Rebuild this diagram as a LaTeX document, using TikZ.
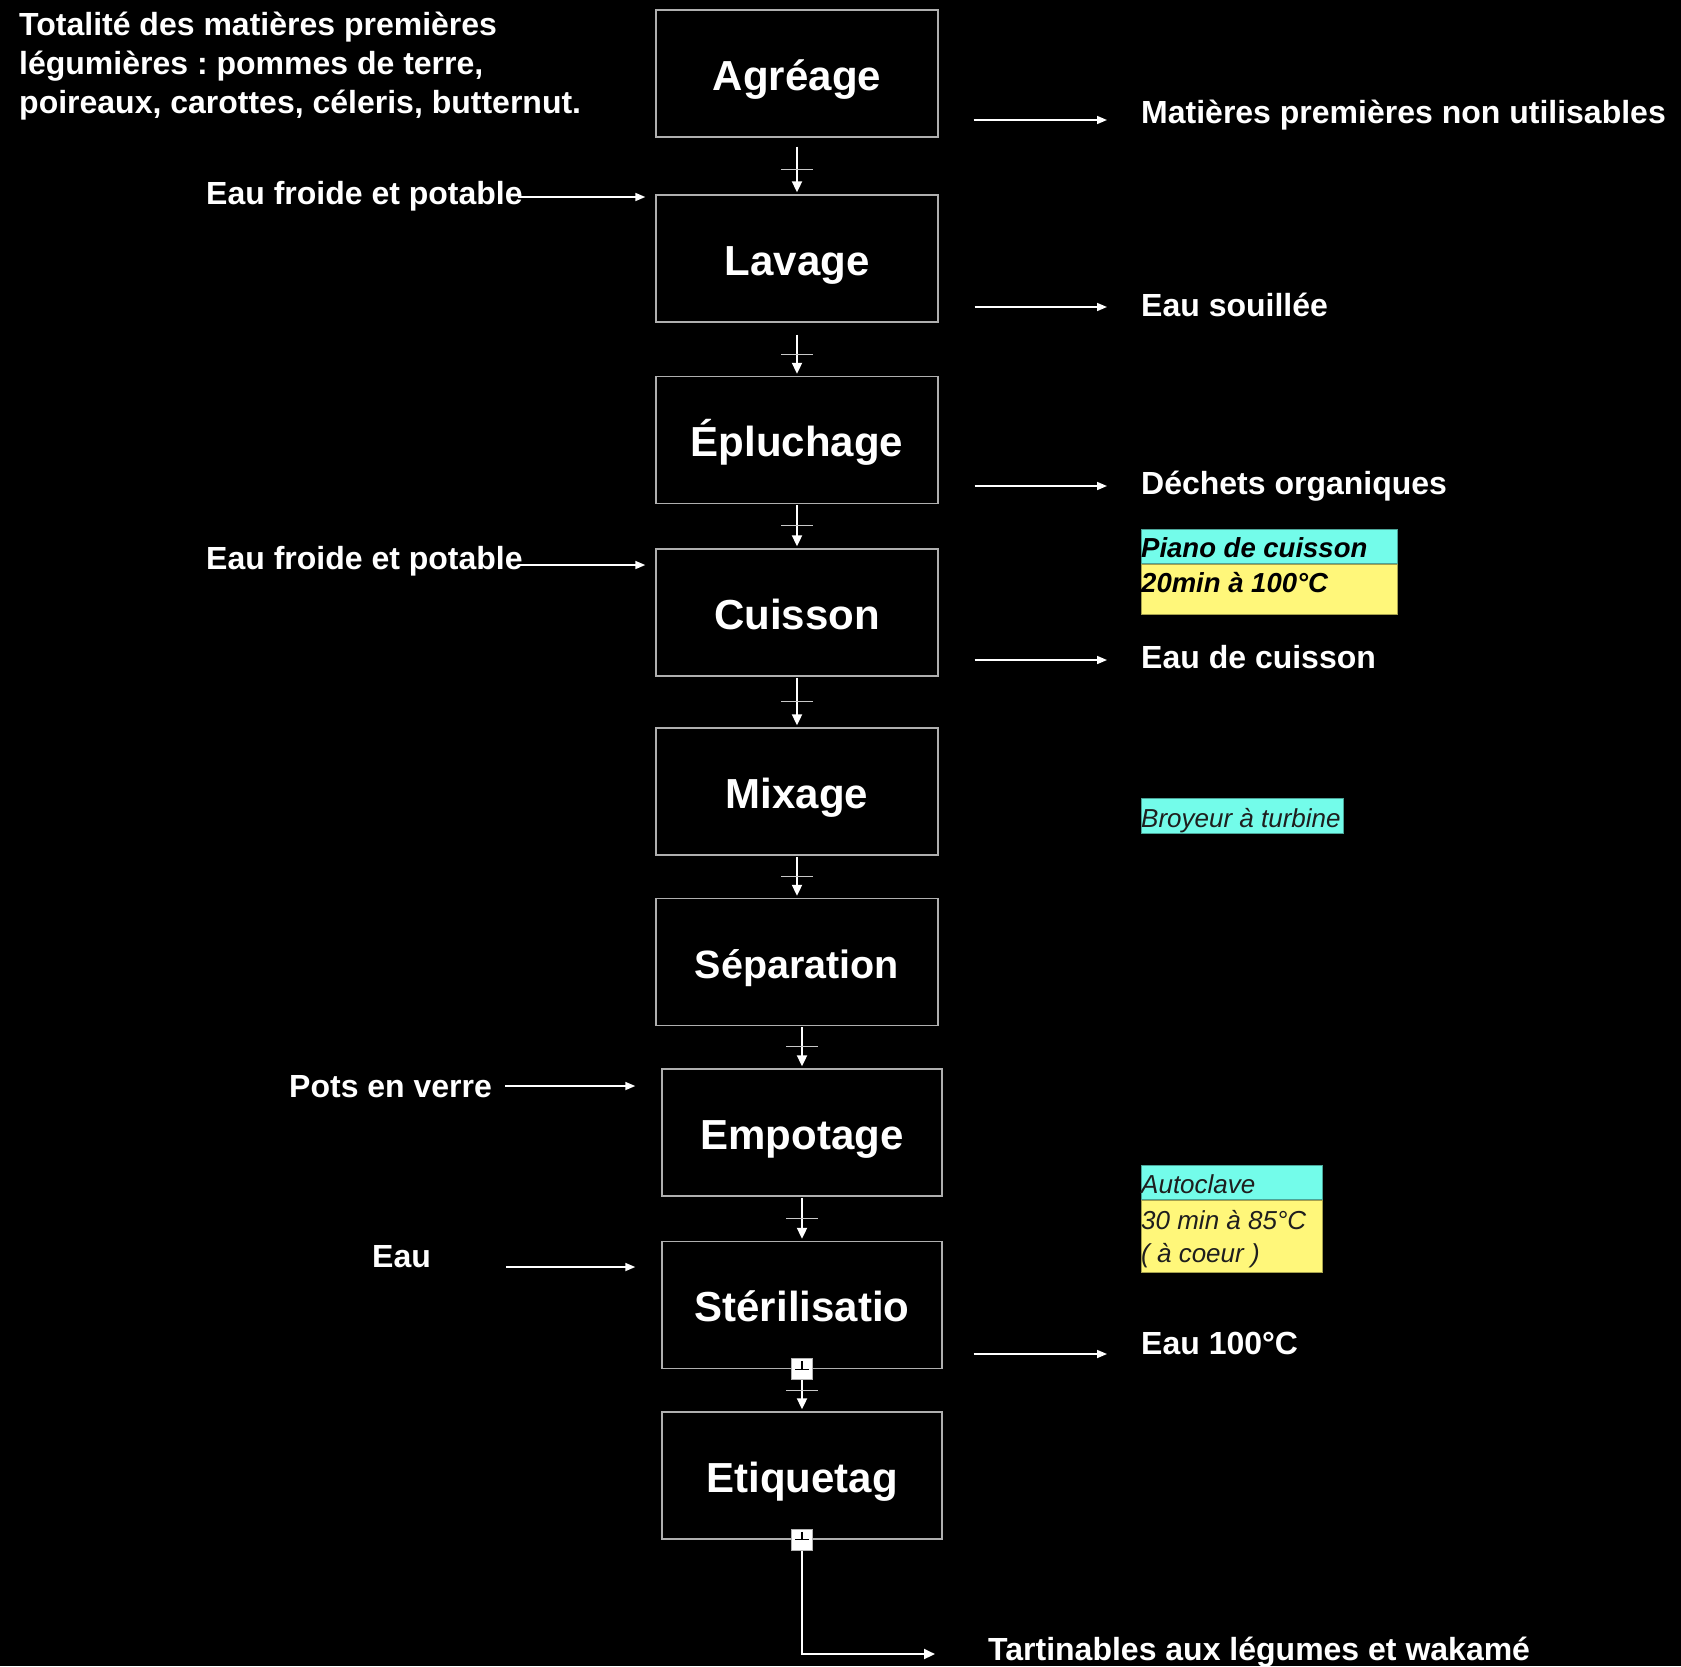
\documentclass[tikz,border=0pt]{standalone}
\usepackage{fontspec}
\setmainfont{Liberation Sans}
\usetikzlibrary{arrows.meta,calc}
\frenchspacing
\definecolor{boxgray}{RGB}{175,175,175}
\definecolor{crossgray}{RGB}{200,200,200}
\definecolor{anncyan}{RGB}{115,252,234}
\definecolor{annyellow}{RGB}{255,247,122}
\definecolor{anntext}{RGB}{30,30,30}
\newcommand\flowarrow[3]{%
  \draw[flow] ($(#1.south)+(0,#3)$) coordinate (fs) -- ($(#2.north)+(0,-2)$) coordinate (fe);
  \draw[crossbar] ($(fs)!0.5!(fe)+(-16,0)$) -- ++(32,0);}
\begin{document}
\frenchspacing
\begin{tikzpicture}[x=1pt,y=-1pt,
  stepbox/.style={draw=boxgray, line width=1.4pt, minimum width=282pt, minimum height=127pt,
    inner sep=0pt, text=white, text height=40pt, text depth=6.8pt,
    font=\fontsize{42}{50}\selectfont\bfseries},
  lbl/.style={anchor=west, inner sep=0pt, text=white, text height=24pt, text depth=0pt,
    font=\fontsize{32}{39}\selectfont\bfseries},
  flow/.style={draw=white, line width=2pt, -{Triangle[length=11pt,width=10pt]}},
  side/.style={draw=white, line width=1.6pt, -{Triangle[length=10pt,width=8pt]}},
  crossbar/.style={draw=crossgray, line width=1.2pt},
  sq/.style={draw=black!30, line width=0.8pt, fill=white, minimum size=21pt, inner sep=0pt},
  tickmark/.style={draw=black, line width=1.4pt},
  cyanbox/.style={fill=anncyan, draw=anncyan!65!black, line width=0.7pt, anchor=north west, inner sep=0pt},
  yellowbox/.style={fill=annyellow, draw=annyellow!65!black, line width=0.7pt, anchor=north west, inner sep=0pt},
  anntxt/.style={anchor=base west, inner sep=0pt, text=anntext, font=\fontsize{26}{34}\selectfont\itshape},
  annbold/.style={anchor=base west, inner sep=0pt, text=black, font=\fontsize{27.5}{36}\selectfont\bfseries\itshape}
]
\fill[black] (0,0) rectangle (1681,1666);
\useasboundingbox (0,0) rectangle (1681,1666);

% process boxes
\node[stepbox] (agr) at (797,73.5) {Agréage};
\node[stepbox] (lav) at (797,258.5) {Lavage};
\node[stepbox] (epl) at (797,440) {Épluchage};
\node[stepbox] (cui) at (797,612.5) {Cuisson};
\node[stepbox] (mix) at (797,791.5) {Mixage};
\node[stepbox, font=\fontsize{39.5}{48}\selectfont\bfseries] (sep) at (797,962) {Séparation};
\node[stepbox, minimum width=280pt] (emp) at (802,1132.5) {Empotage};
\node[stepbox, minimum width=280pt] (ste) at (802,1305) {Stérilisatio};
\node[stepbox, minimum width=280pt] (eti) at (802,1475.5) {Etiquetag};

% vertical flow
\flowarrow{agr}{lav}{9}
\flowarrow{lav}{epl}{12}
\flowarrow{epl}{cui}{1}
\flowarrow{cui}{mix}{1}
\flowarrow{mix}{sep}{1}
\draw[flow] ($(sep.south -| emp.north)+(0,1)$) coordinate (fs) -- ($(emp.north)+(0,-2)$) coordinate (fe);
\draw[crossbar] ($(fs)!0.5!(fe)+(-16,0)$) -- ++(32,0);
\flowarrow{emp}{ste}{1}

% small squares
\node[sq] (sq1) at (ste.south) {};
\draw[tickmark] ($(sq1.north)+(0,3)$) -- (sq1.center);
\draw[tickmark] ($(sq1.center)+(-7,0)$) -- ($(sq1.center)+(7,0)$);
\draw[flow] (sq1.south) coordinate (fs) -- ($(eti.north)+(0,-2)$) coordinate (fe);
\draw[crossbar] ($(fs)!0.36!(fe)+(-16,0)$) -- ++(32,0);

\node[sq] (sq2) at (eti.south) {};
\draw[tickmark] ($(sq2.north)+(0,3)$) -- (sq2.center);
\draw[tickmark] ($(sq2.center)+(-7,0)$) -- ($(sq2.center)+(7,0)$);

% top-left text
\node[anchor=north west, inner sep=0pt, align=left, text=white,
  font=\fontsize{32}{39}\selectfont\bfseries] (intro) at (19,12)
  {Totalité des matières premières\\légumières : pommes de terre,\\poireaux, carottes, céleris, butternut.};

% right labels
\node[lbl] (r1) at (1141,111) {Matières premières non utilisables};
\node[lbl] (r2) at (1141,304) {Eau souillée};
\node[lbl] (r3) at (1141,482) {Déchets organiques};
\node[lbl] (r4) at (1141,656) {Eau de cuisson};
\node[lbl] (r5) at (1141,1342) {Eau 100°C};

\draw[side] ($(agr.east |- r1.west)+(35,9)$) -- ($(r1.west)+(-34,9)$);
\draw[side] ($(lav.east |- r2.west)+(36,3)$) -- ($(r2.west)+(-34,3)$);
\draw[side] ($(epl.east |- r3.west)+(36,4)$) -- ($(r3.west)+(-34,4)$);
\draw[side] ($(cui.east |- r4.west)+(36,4)$) -- ($(r4.west)+(-34,4)$);
\draw[side] ($(ste.east |- r5.west)+(31,12)$) -- ($(r5.west)+(-34,12)$);

% left labels
\node[lbl] (l1) at (206,192) {Eau froide et potable};
\node[lbl] (l2) at (206,557) {Eau froide et potable};
\node[lbl] (l3) at (289,1085) {Pots en verre};
\node[lbl] (l4) at (372,1255) {Eau};

\draw[side] ($(l1.east)+(-5,5)$) -- ($(lav.west |- l1.east)+(-10,5)$);
\draw[side] ($(l2.east)+(-5,8)$) -- ($(cui.west |- l2.east)+(-10,8)$);
\draw[side] ($(l3.east)+(13,1)$) -- ($(emp.west |- l3.east)+(-26,1)$);
\draw[side] ($(l4.east)+(75,12)$) -- ($(ste.west |- l4.east)+(-26,12)$);

% annotations
\node[cyanbox, minimum width=256pt, minimum height=34pt] (c1) at (1141,529) {};
\node[yellowbox, minimum width=256pt, minimum height=50pt] (y1) at (c1.south west) {};
\node[annbold] (t1) at (1141,557) {Piano de cuisson};
\node[annbold] (t2) at (1141,592) {20min à 100°C};

\node[cyanbox, minimum width=202pt, minimum height=35pt] (c2) at (1141,798) {};
\node[anntxt] (t3) at (1141,827) {Broyeur à turbine};

\node[cyanbox, minimum width=181pt, minimum height=34pt] (c3) at (1141,1165) {};
\node[yellowbox, minimum width=181pt, minimum height=72pt] (y3) at (c3.south west) {};
\node[anntxt] (t4) at (1141,1193) {Autoclave};
\node[anntxt] (t5) at (1141,1229) {30 min à 85°C};
\node[anntxt] (t6) at (1141,1262) {( à coeur )};

% output
\node[lbl] (out) at (988,1648) {Tartinables aux légumes et wakamé};
\draw[flow] (sq2.south) |- ($(out.west)+(-53,6)$);
\end{tikzpicture}
\end{document}
